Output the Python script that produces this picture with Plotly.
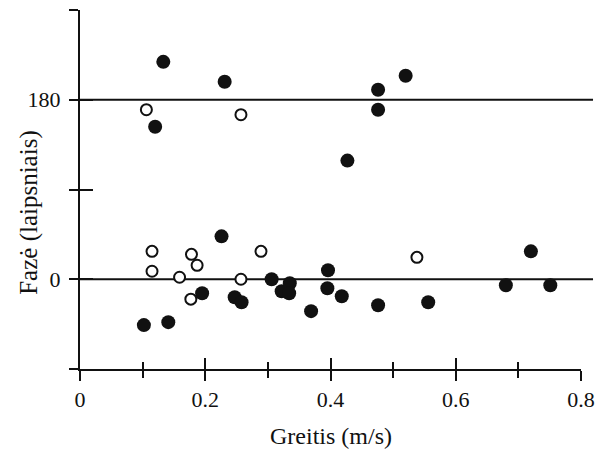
import plotly.graph_objects as go

# Speed (m/s) and phase (degrees) readings
filled_speed = [0.133, 0.231, 0.476, 0.476, 0.520, 0.120, 0.427,
                0.195, 0.226, 0.247, 0.258, 0.102, 0.141, 0.306, 0.322,
                0.335, 0.334, 0.369, 0.396, 0.395, 0.418, 0.476, 0.556,
                0.720, 0.680, 0.751]
filled_phase = [218, 198, 190, 170, 204, 153, 119,
                -14, 43, -18, -23, -46, -43, 0, -12,
                -4, -14, -32, 9, -9, -17, -26, -23,
                28, -6, -6]

open_speed = [0.106, 0.257, 0.115, 0.115, 0.159, 0.178, 0.187, 0.177,
              0.257, 0.289, 0.538]
open_phase = [170, 165, 28, 8, 2, 25, 14, -20,
              0, 28, 22]

x_ticks = [0, 0.2, 0.4, 0.6, 0.8]
x_tick_labels = ["0", "0.2", "0.4", "0.6", "0.8"]
x_minor_ticks = [0.1, 0.3, 0.5, 0.7]
y_ticks = [-90, 0, 90, 180, 270]
y_tick_labels = ["", "0", "", "180", ""]
reference_phases = [0, 180]

x_range = [0, 0.8]
y_range = [-90, 270]

FONT = "Liberation Serif, Times New Roman, serif"
INK = "#111111"

fig = go.Figure()

fig.add_trace(go.Scatter(
    x=filled_speed, y=filled_phase, mode="markers",
    marker=dict(symbol="circle", size=14, color=INK, line=dict(width=0)),
    showlegend=False, hoverinfo="skip"))

fig.add_trace(go.Scatter(
    x=open_speed, y=open_phase, mode="markers",
    marker=dict(symbol="circle", size=11, color="white",
                line=dict(width=2, color=INK)),
    showlegend=False, hoverinfo="skip"))

# invisible trace to bring the overlay axes (inside tick halves) to life
fig.add_trace(go.Scatter(x=[], y=[], xaxis="x2", yaxis="y2",
                         showlegend=False, hoverinfo="skip"))

for ph in reference_phases:
    fig.add_shape(type="line", xref="paper", yref="y",
                  x0=0, x1=1.024, y0=ph, y1=ph,
                  line=dict(color=INK, width=2), layer="below")

fig.update_layout(
    width=605, height=452,
    margin=dict(l=80, r=17, t=10, b=83),
    paper_bgcolor="white", plot_bgcolor="white",
    font=dict(family=FONT, color=INK),
    xaxis=dict(range=x_range, tickvals=x_ticks, ticktext=x_tick_labels,
               ticks="outside", ticklen=10, tickwidth=2, tickcolor=INK,
               minor=dict(tickvals=x_minor_ticks, ticks="outside",
                          ticklen=7, tickwidth=2, tickcolor=INK),
               showline=True, linecolor=INK, linewidth=2,
               showgrid=False, zeroline=False,
               tickfont=dict(family=FONT, size=22, color=INK)),
    yaxis=dict(range=y_range, tickvals=y_ticks, ticktext=y_tick_labels,
               ticks="outside", ticklen=9, tickwidth=2, tickcolor=INK,
               showline=True, linecolor=INK, linewidth=2,
               showgrid=False, zeroline=False, ticklabelstandoff=4,
               tickfont=dict(family=FONT, size=22, color=INK)),
    xaxis2=dict(range=x_range, overlaying="x", anchor="y2", side="bottom",
                tickvals=x_ticks, ticks="inside", ticklen=11, tickwidth=2,
                tickcolor=INK,
                minor=dict(tickvals=x_minor_ticks, ticks="inside",
                           ticklen=7, tickwidth=2, tickcolor=INK),
                showticklabels=False, showline=False, showgrid=False,
                zeroline=False),
    yaxis2=dict(range=y_range, overlaying="y", anchor="x2", side="left",
                tickvals=y_ticks, ticks="inside", ticklen=13, tickwidth=2,
                tickcolor=INK, showticklabels=False, showline=False,
                showgrid=False, zeroline=False),
)

fig.add_annotation(text="Greitis (m/s)", xref="paper", yref="paper",
                   x=0.5, y=-0.1866, xanchor="center", yanchor="middle",
                   showarrow=False, font=dict(family=FONT, size=24, color=INK))
fig.add_annotation(text="Fazė (laipsniais)", xref="paper", yref="paper",
                   x=-0.1024, y=0.437, xanchor="center", yanchor="middle",
                   textangle=-90, showarrow=False,
                   font=dict(family=FONT, size=25, color=INK))

fig.write_html("out.html")
